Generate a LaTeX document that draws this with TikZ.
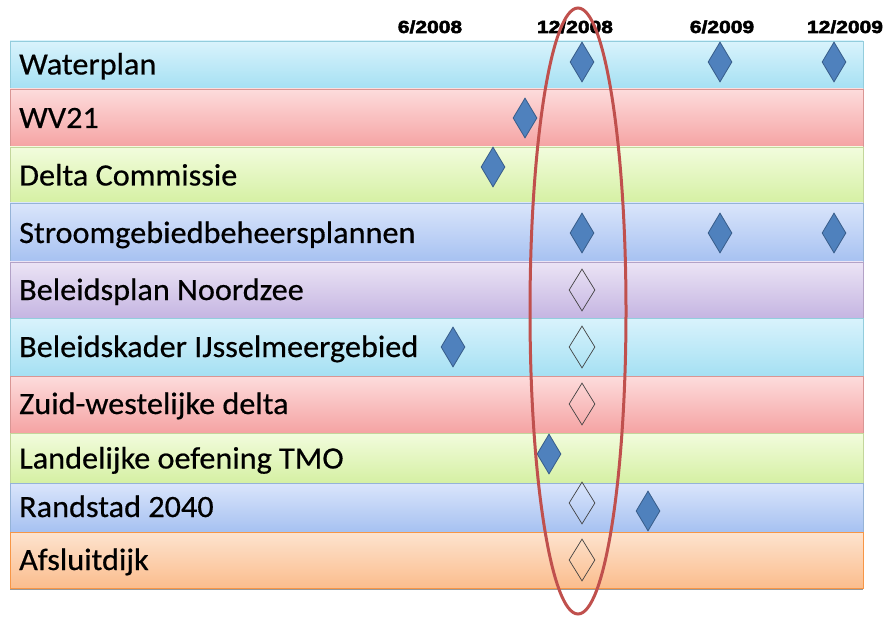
\documentclass[tikz,border=0pt]{standalone}
\usepackage{fontspec}
\setmainfont{Carlito}
\newfontfamily\lblfont[FakeStretch=1.04,FakeBold=0.5]{Carlito}
\newfontfamily\hdrfont[FakeStretch=1.2,FakeBold=3]{Liberation Sans Bold}
\usetikzlibrary{shapes.geometric}
\definecolor{cyT}{HTML}{D9F3FC}\definecolor{cyB}{HTML}{A5E0F3}\definecolor{cyL}{HTML}{93CDDD}
\definecolor{piT}{HTML}{FDDCDC}\definecolor{piB}{HTML}{F5A3A3}\definecolor{piL}{HTML}{D99694}
\definecolor{grT}{HTML}{F2FCDD}\definecolor{grB}{HTML}{D5F0A3}\definecolor{grL}{HTML}{C3D69B}
\definecolor{blT}{HTML}{DAE5FB}\definecolor{blB}{HTML}{A6C1F1}\definecolor{blL}{HTML}{95B3D7}
\definecolor{puT}{HTML}{EBE4F5}\definecolor{puB}{HTML}{C5B5E2}\definecolor{puL}{HTML}{B3A2C7}
\definecolor{orT}{HTML}{FDE3CF}\definecolor{orB}{HTML}{FBBD8D}\definecolor{orL}{HTML}{F79646}
\definecolor{msfill}{HTML}{4F81BD}\definecolor{msline}{HTML}{385D8A}
\definecolor{ovalred}{HTML}{C0504D}
\tikzset{
  rowlabel/.style={anchor=base west,inner sep=0pt,font=\lblfont\fontsize{31}{36}\selectfont,text=black},
  hdr/.style={anchor=base,inner sep=0pt,font=\hdrfont\fontsize{17.5}{20}\selectfont,text=black},
  msdone/.style={diamond,draw=msline,fill=msfill,line width=0.8pt,minimum width=24pt,minimum height=40pt,inner sep=0pt},
  msopen/.style={diamond,draw=black!75,line width=0.7pt,minimum width=26pt,minimum height=42pt,inner sep=0pt},
}
\newcommand{\tlrow}[3]{% top, bottom, colour prefix
  \shade[top color=#3T,bottom color=#3B] (10,#1) rectangle (863,#2);
  \draw[#3L,line width=0.8pt] (10,#1) rectangle (863,#2);
}
\begin{document}
\begin{tikzpicture}[x=1pt,y=-1pt]
\useasboundingbox (0,0) rectangle (885,617);
\fill[white] (0,0) rectangle (885,617);
% rows
\tlrow{41}{89}{cy}
\tlrow{89}{147}{pi}
\tlrow{147}{203}{gr}
\tlrow{203}{262}{bl}
\tlrow{262}{318}{pu}
\tlrow{318}{376}{cy}
\tlrow{376}{433}{pi}
\tlrow{433}{483}{gr}
\tlrow{483}{532}{bl}
\tlrow{532}{588}{or}
\draw[black!40,line width=1pt] (10,589) -- (863,589);
% labels
\node[rowlabel] (r1) at (19,74.5) {Waterplan};
\node[rowlabel] (r2) at (19,128) {WV21};
\node[rowlabel] (r3) at (19,185.5) {Delta Commissie};
\node[rowlabel] (r4) at (19,243) {Stroomgebiedbeheersplannen};
\node[rowlabel] (r5) at (19,300) {Beleidsplan Noordzee};
\node[rowlabel] (r6) at (19,357) {Beleidskader IJsselmeergebied};
\node[rowlabel] (r7) at (19,414) {Zuid-westelijke delta};
\node[rowlabel] (r8) at (19,468.5) {Landelijke oefening TMO};
\node[rowlabel] (r9) at (19,517) {Randstad 2040};
\node[rowlabel] (r10) at (19,570) {Afsluitdijk};
% header
\node[hdr] (h1) at (430,33) {6/2008};
\node[hdr] (h2) at (575,33) {12/2008};
\node[hdr] (h3) at (722,33) {6/2009};
\node[hdr] (h4) at (845,33) {12/2009};
% milestones
\node[msdone] (m1a) at (582,62) {};
\node[msdone] (m1b) at (720,62) {};
\node[msdone] (m1c) at (834,62) {};
\node[msdone] (m2) at (525,118) {};
\node[msdone] (m3) at (493,167) {};
\node[msdone] (m4a) at (582,233) {};
\node[msdone] (m4b) at (720,233) {};
\node[msdone] (m4c) at (834,233) {};
\node[msopen] (m5) at (582,290) {};
\node[msdone] (m6a) at (453,347) {};
\node[msopen] (m6b) at (582,347) {};
\node[msopen] (m7) at (582,404) {};
\node[msdone] (m8) at (549,454) {};
\node[msopen] (m9a) at (582,503) {};
\node[msdone] (m9b) at (648,511) {};
\node[msopen] (m10) at (582,560) {};
% oval
\draw[ovalred,line width=3pt] (578,311) ellipse [x radius=48,y radius=303];
\end{tikzpicture}
\end{document}
